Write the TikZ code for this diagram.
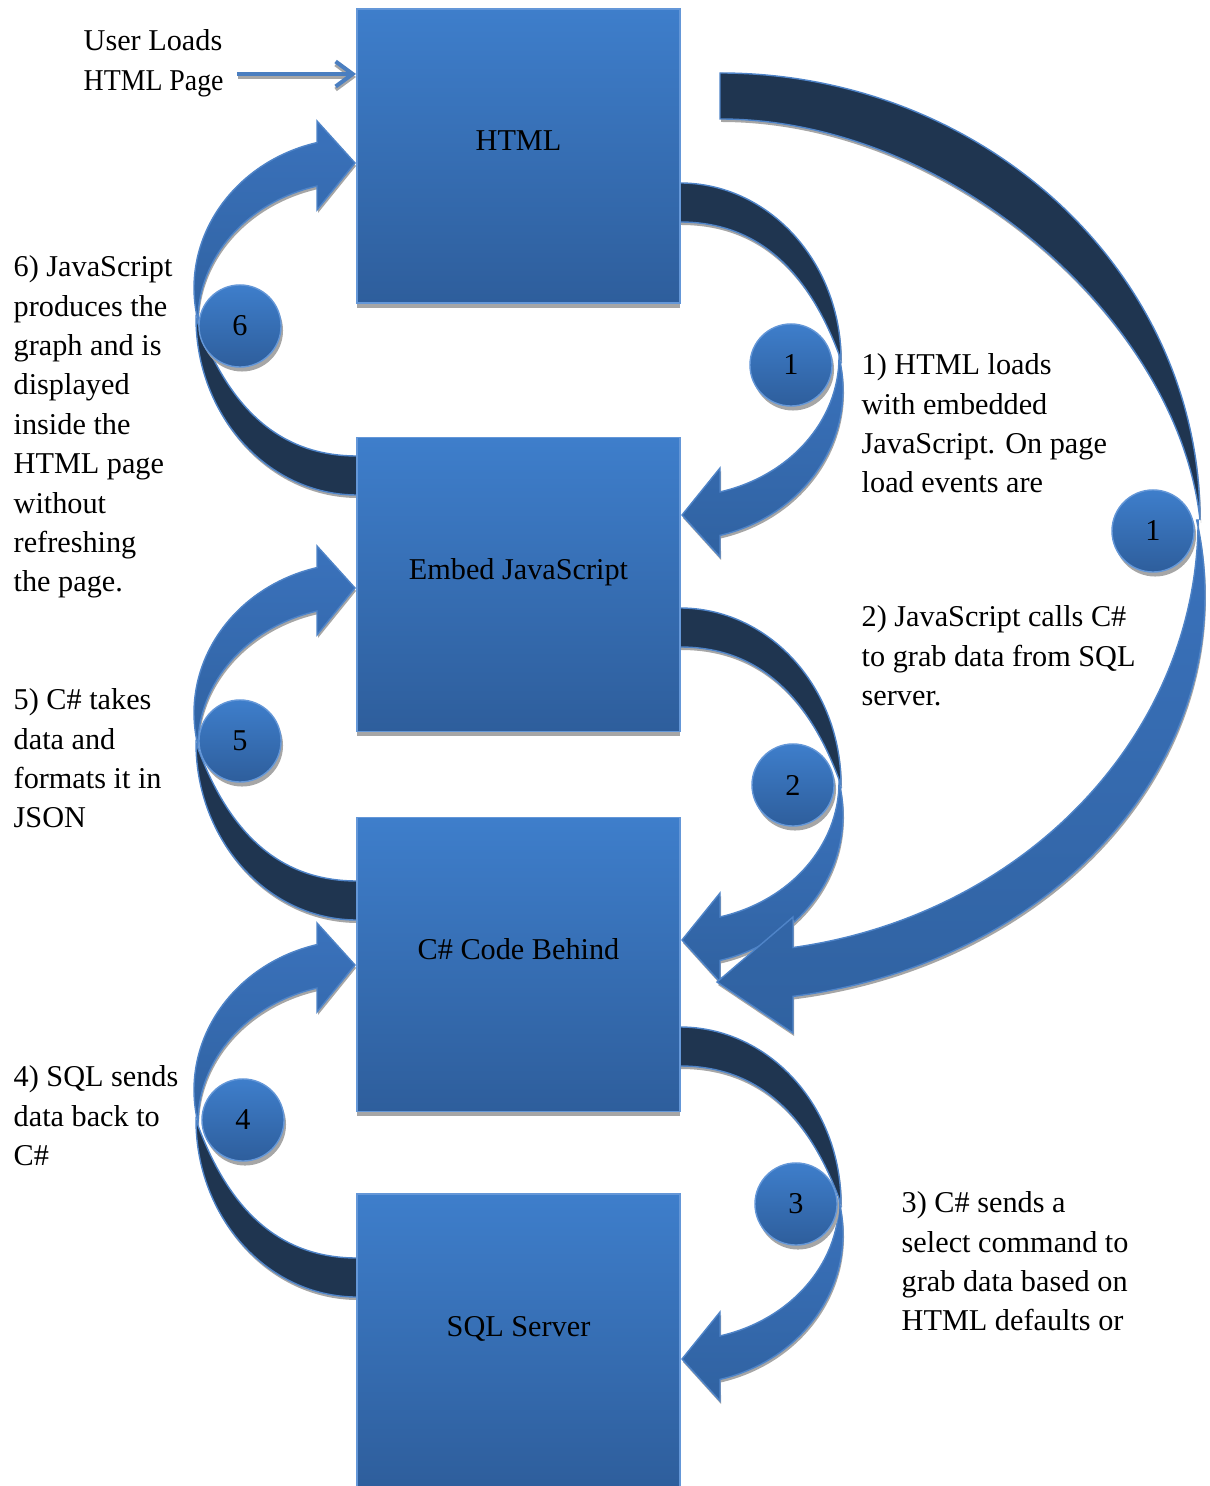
\documentclass[tikz,border=0pt]{standalone}
\usepackage{fontspec}
\setmainfont{Liberation Serif}
\usetikzlibrary{arrows.meta,calc,shadows}
\definecolor{boxtop}{HTML}{3E7ECB}
\definecolor{boxbot}{HTML}{2E5E9C}
\definecolor{boxedge}{HTML}{6497D8}
\definecolor{bandtop}{HTML}{3A72BC}
\definecolor{bandbot}{HTML}{3062A1}
\definecolor{darkband}{HTML}{1F3550}
\definecolor{bandedge}{HTML}{4F84C8}
\definecolor{shadowgray}{HTML}{A6A6A6}
\definecolor{ulblue}{HTML}{4A7EC0}
% small curved arrow, local coordinates (origin = outer edge where the dark band leaves the box)
\newcommand\smalldarkpath{(0,0) arc[start angle=-90,end angle=0,x radius=161,y radius=177] .. controls (130,90) and (80,39) .. (0,39) -- cycle}
\newcommand\smallbluepath{(159.7,177.1) arc[start angle=-11.5,end angle=75.8,x radius=163,y radius=150] -- (40,374) -- (2,332) -- (40,285) -- (40,308.9) arc[start angle=75.43,end angle=0,x radius=159,y radius=139.4] -- cycle}
\newcommand\bigdarkpath{(720,73) arc[start angle=-90,end angle=0,x radius=480,y radius=447] .. controls (1178,320) and (950,119) .. (720,119) -- cycle}
\newcommand\bigbluepath{(1196.6,520) arc[start angle=-10.65,end angle=81.34,x radius=485,y radius=406] -- (793,1033) -- (717,982) -- (793,917) -- (793,947.5) arc[start angle=81.22,end angle=0,x radius=478,y radius=432.6] -- cycle}
\newcommand\curvedarr[3]{%
  \begin{scope}[shift={(#1+1,#2+3)},rotate=#3]
    \fill[shadowgray] \smalldarkpath;
    \fill[shadowgray] \smallbluepath;
  \end{scope}
  \begin{scope}[shift={(#1,#2)},rotate=#3]
    \path[backband] \smalldarkpath;
    \path[frontband] \smallbluepath;
  \end{scope}}
\begin{document}
\begin{tikzpicture}[x=0.01cm,y=-0.01cm,
  txt/.style={font=\fontsize{8.6}{11.2}\selectfont, align=left, inner sep=0pt, anchor=north west},
  lbl/.style={font=\fontsize{8.6}{11.2}\selectfont, inner sep=0pt, anchor=base},
  flowbox/.style={rectangle, minimum width=3.23cm, minimum height=2.94cm, inner sep=0pt,
    top color=boxtop, bottom color=boxbot, draw=boxedge, line width=0.5pt,
    drop shadow={shadow xshift=0pt, shadow yshift=-0.045cm, fill=shadowgray, opacity=1}},
  numcirc/.style={circle, minimum size=0.82cm, inner sep=0pt, font=\fontsize{8.6}{11.2}\selectfont,
    top color=boxtop, bottom color=boxbot, draw=boxedge, line width=0.4pt,
    drop shadow={shadow xshift=0.02cm, shadow yshift=-0.045cm, fill=shadowgray, opacity=1}},
  backband/.style={fill=darkband, draw=bandedge, line width=0.4pt},
  frontband/.style={top color=bandtop, bottom color=bandbot, draw=bandedge, line width=0.4pt},
  ularrow/.style={draw=ulblue, line width=1.15pt, -{Straight Barb[length=1.7mm,width=2.5mm]}},
  ulshadow/.style={draw=shadowgray, line width=1.15pt, -{Straight Barb[length=1.7mm,width=2.5mm]}}
]
\useasboundingbox (0,0) rectangle (1209,1486);
\clip (0,0) rectangle (1209,1486);

% curved arrows on the right (pointing down-left) and on the left (pointing up-right)
\curvedarr{680}{183}{0}
\curvedarr{680}{608}{0}
\curvedarr{680}{1027}{0}
\curvedarr{357}{495}{180}
\curvedarr{357}{920}{180}
\curvedarr{357}{1297}{180}

% large arrow from HTML to C# code behind
\begin{scope}[shift={(1,3)}]
  \fill[shadowgray] \bigdarkpath;
  \fill[shadowgray] \bigbluepath;
\end{scope}
\path[backband] \bigdarkpath;
\path[frontband] \bigbluepath;

% boxes
\node[flowbox] (html) at (518.5,156) {};
\node[flowbox] (js) at (518.5,584.5) {};
\node[flowbox] (cs) at (518.5,964.5) {};
\node[flowbox] (sql) at (518.5,1341) {};
\node[lbl] (htmlt) at ($(html.center)+(0,-5)$) {HTML};
\node[lbl] (jst) at ($(js.center)+(0,-5)$) {Embed JavaScript};
\node[lbl] (cst) at ($(cs.center)+(0,-5)$) {C\# Code Behind};
\node[lbl] (sqlt) at ($(sql.center)+(0,-5)$) {SQL Server};

% numbered circles
\node[numcirc] (n1a) at (791,365) {1};
\node[numcirc] (n1b) at (1153,531) {1};
\node[numcirc] (n2) at (793,785) {2};
\node[numcirc] (n3) at (796,1204) {3};
\node[numcirc] (n4) at (243,1120) {4};
\node[numcirc] (n5) at (240,741) {5};
\node[numcirc] (n6) at (240,326) {6};

% user loads page
\node[txt] (ul) at (83,29) {User Loads\\\addfontfeature{FakeStretch=0.92}HTML Page};
\coordinate (ulstart) at (237,74);
\draw[ulshadow] ([shift={(1,3)}]ulstart) -- ([shift={(0,3)}]ulstart -| html.west);
\draw[ularrow] (ulstart) -- (ulstart -| html.west);

% descriptions
\node[txt] (d1) at (861,353) {1) HTML loads\\with embedded\\JavaScript. On page\\load events are};
\node[txt] (d2) at (861,605) {2) JavaScript calls C\#\\to grab data from SQL\\server.};
\node[txt] (d3) at (901,1191) {3) C\# sends a\\select command to\\grab data based on\\HTML defaults or};
\node[txt] (d6) at (13,255) {6) JavaScript\\produces the\\graph and is\\displayed\\inside the\\HTML page\\without\\refreshing\\the page.};
\node[txt] (d5) at (13,688) {5) C\# takes\\data and\\formats it in\\JSON};
\node[txt] (d4) at (13,1065) {4) SQL sends\\data back to\\C\#};
\end{tikzpicture}
\end{document}
